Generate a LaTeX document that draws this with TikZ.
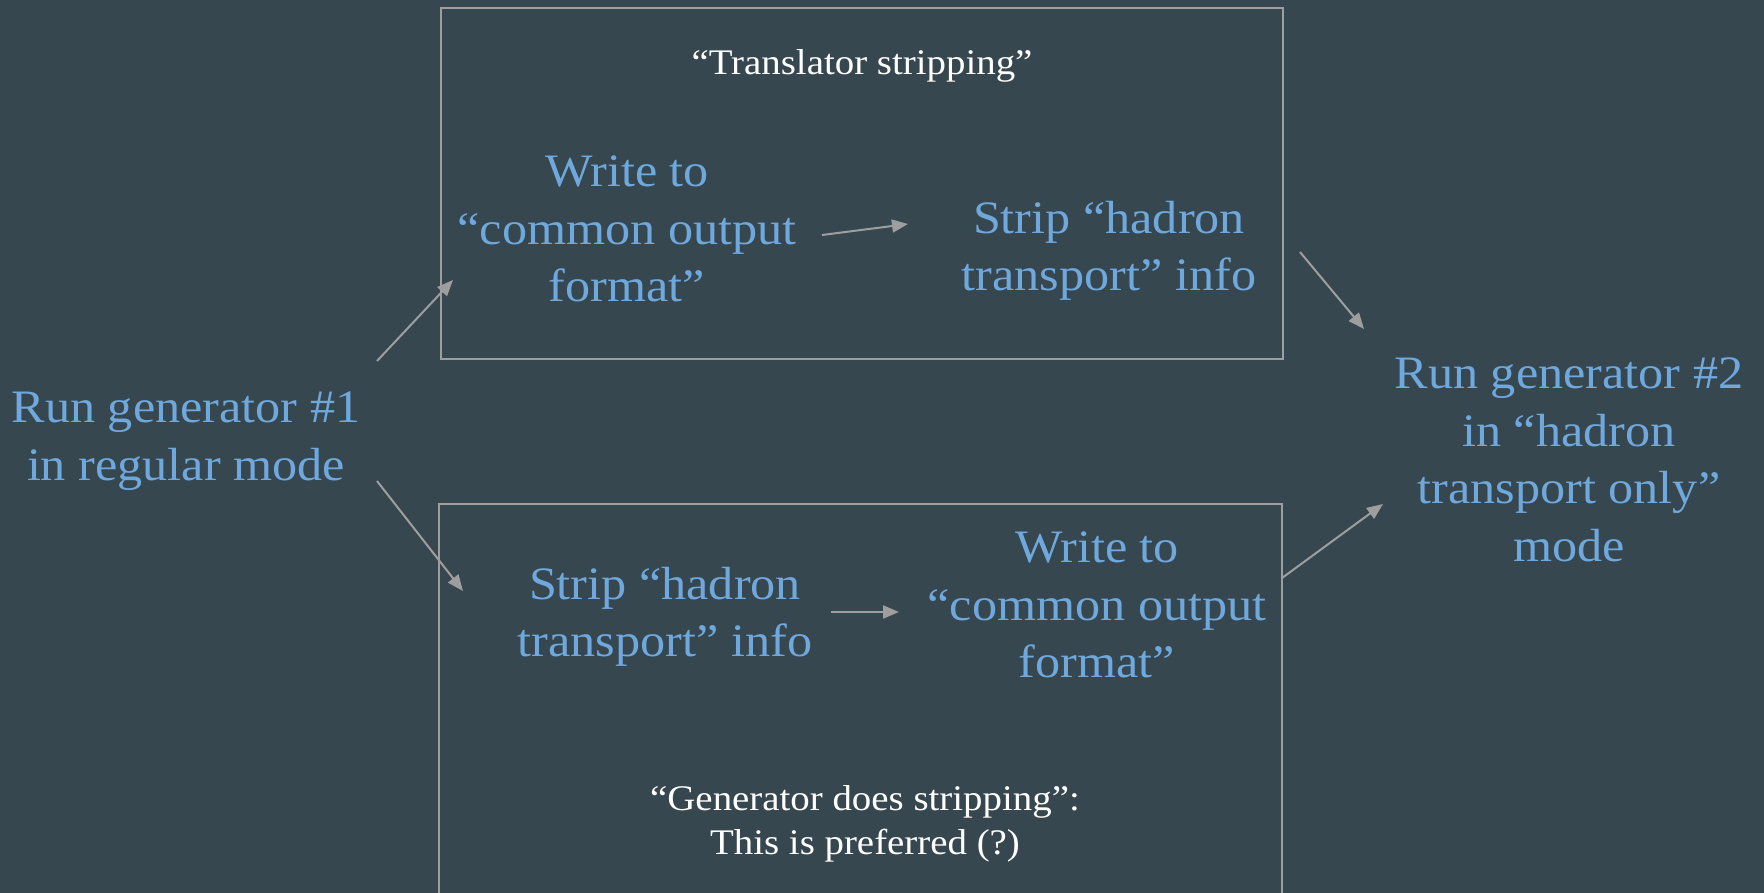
\documentclass[tikz,border=0pt]{standalone}
\usepackage{fontspec}
\setmainfont[FakeStretch=1.08]{Liberation Serif}
\usetikzlibrary{arrows.meta}
\definecolor{bg}{HTML}{37474F}
\definecolor{bluetxt}{HTML}{6FA8DC}
\definecolor{linegray}{HTML}{9E9E9E}
\tikzset{
  bluenode/.style={text=bluetxt, align=center, font=\fontsize{46.5}{57.5}\selectfont, inner sep=0pt},
  whitenode/.style={text=white, align=center, font=\fontsize{36}{44}\selectfont, inner sep=0pt},
  frame/.style={draw=linegray, line width=2pt},
  conn/.style={draw=linegray, line width=2pt, -{Triangle[length=16pt,width=13pt]}}
}
\begin{document}
\begin{tikzpicture}[x=1pt,y=-1pt]
\fill[bg] (0,0) rectangle (1764,893);
\useasboundingbox (0,0) rectangle (1764,893);
% frames
\draw[frame] (441,8) rectangle (1283,359);
\draw[frame] (439,504) rectangle (1282,900);
% texts
\node[whitenode] (title1) at (862,66) {“Translator stripping”};
\node[bluenode] (write1) at (627,229) {Write to\\“common output\\format”};
\node[bluenode] (strip1) at (1109,251) {Strip “hadron\\transport” info};
\node[bluenode] (run1) at (186,441) {Run generator \#1\\in regular mode};
\node[bluenode] (run2) at (1569,460) {Run generator \#2\\in “hadron\\transport only”\\mode};
\node[bluenode] (strip2) at (665,617) {Strip “hadron\\transport” info};
\node[bluenode] (write2) at (1097,605) {Write to\\“common output\\format”};
\node[whitenode] (title2) at (865,824) {“Generator does stripping”:\\This is preferred (?)};
% connector end points
\coordinate (a1s) at (377,361); \coordinate (a1e) at (453,280);
\coordinate (a2s) at (822,235); \coordinate (a2e) at (908,224);
\coordinate (a3s) at (1300,252); \coordinate (a3e) at (1364,329);
\coordinate (a4s) at (377,481); \coordinate (a4e) at (463,591);
\coordinate (a5s) at (831,612); \coordinate (a5e) at (899,612);
\coordinate (a6s) at (1282,578); \coordinate (a6e) at (1383,504);
\draw[conn] (a1s) -- (a1e);
\draw[conn] (a2s) -- (a2e);
\draw[conn] (a3s) -- (a3e);
\draw[conn] (a4s) -- (a4e);
\draw[conn] (a5s) -- (a5e);
\draw[conn] (a6s) -- (a6e);
\end{tikzpicture}
\end{document}
